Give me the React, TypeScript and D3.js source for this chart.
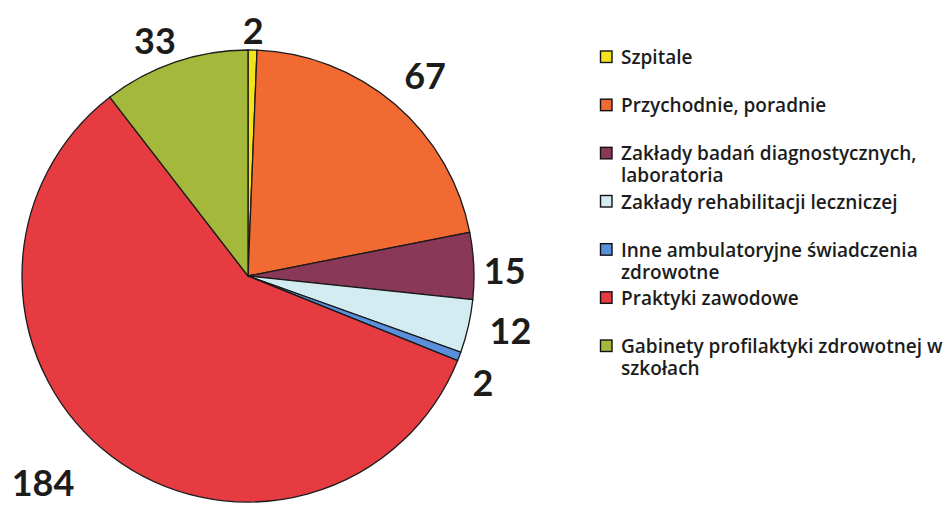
import React from 'react';
import * as d3 from 'd3';

const categories = [
  ['Szpitale'],
  ['Przychodnie, poradnie'],
  ['Zakłady badań diagnostycznych,', 'laboratoria'],
  ['Zakłady rehabilitacji leczniczej'],
  ['Inne ambulatoryjne świadczenia', 'zdrowotne'],
  ['Praktyki zawodowe'],
  ['Gabinety profilaktyki zdrowotnej w', 'szkołach'],
];
const values = [2, 67, 15, 12, 2, 184, 33];
const colors = ['#f3e21c', '#f06a31', '#8a3858', '#d3ecf1', '#5a8fdc', '#e63b40', '#a4b83b'];
// label nudges (layout only), px
const labelShift = [[0, 14], [8, -4], [-3, 6], [9, -4], [-8, 13], [-48, -1], [-9, 10]];

const W = 949;
const H = 507;
const cx = 248;
const cy = 276;
const R = 226;

export default function App() {
  const pie = d3.pie<number>().sort(null).value(d => d);
  const arcs = pie(values);
  const arc = d3.arc<d3.PieArcDatum<number>>().innerRadius(0).outerRadius(R);
  const labelArc = d3.arc<d3.PieArcDatum<number>>().innerRadius(260).outerRadius(260);
  const legendY = d3.scaleLinear().domain([0, categories.length - 1]).range([57, 346]);

  return (
    <svg width={W} height={H} style={{ position: 'absolute', left: 0, top: 0, background: '#fff' }}>
      <g transform={`translate(${cx},${cy})`}>
        {arcs.map((a, i) => (
          <path key={i} d={arc(a) || ''} fill={colors[i]} stroke="#1a1a1a" strokeWidth={1.3} />
        ))}
        {arcs.map((a, i) => {
          const [x, y] = labelArc.centroid(a);
          return (
            <text key={i} x={x + labelShift[i][0]} y={y + labelShift[i][1]} textAnchor="middle"
              dominantBaseline="central" fontFamily="Lato" fontWeight="bold" fontSize={36} fill="#1c1c1c">
              {values[i]}
            </text>
          );
        })}
      </g>
      <g fontFamily="'Open Sans'" fontWeight={600} fontSize={19} fill="#1c1c1c">
        {categories.map((lines, i) => (
          <g key={i} transform={`translate(600,${legendY(i)})`}>
            <rect x={0.5} y={-6} width={11.5} height={11.5} fill={colors[i]} stroke="#111" strokeWidth={1.4} />
            {lines.map((t, j) => (
              <text key={j} x={21} y={j * 22} dominantBaseline="central">{t}</text>
            ))}
          </g>
        ))}
      </g>
    </svg>
  );
}
